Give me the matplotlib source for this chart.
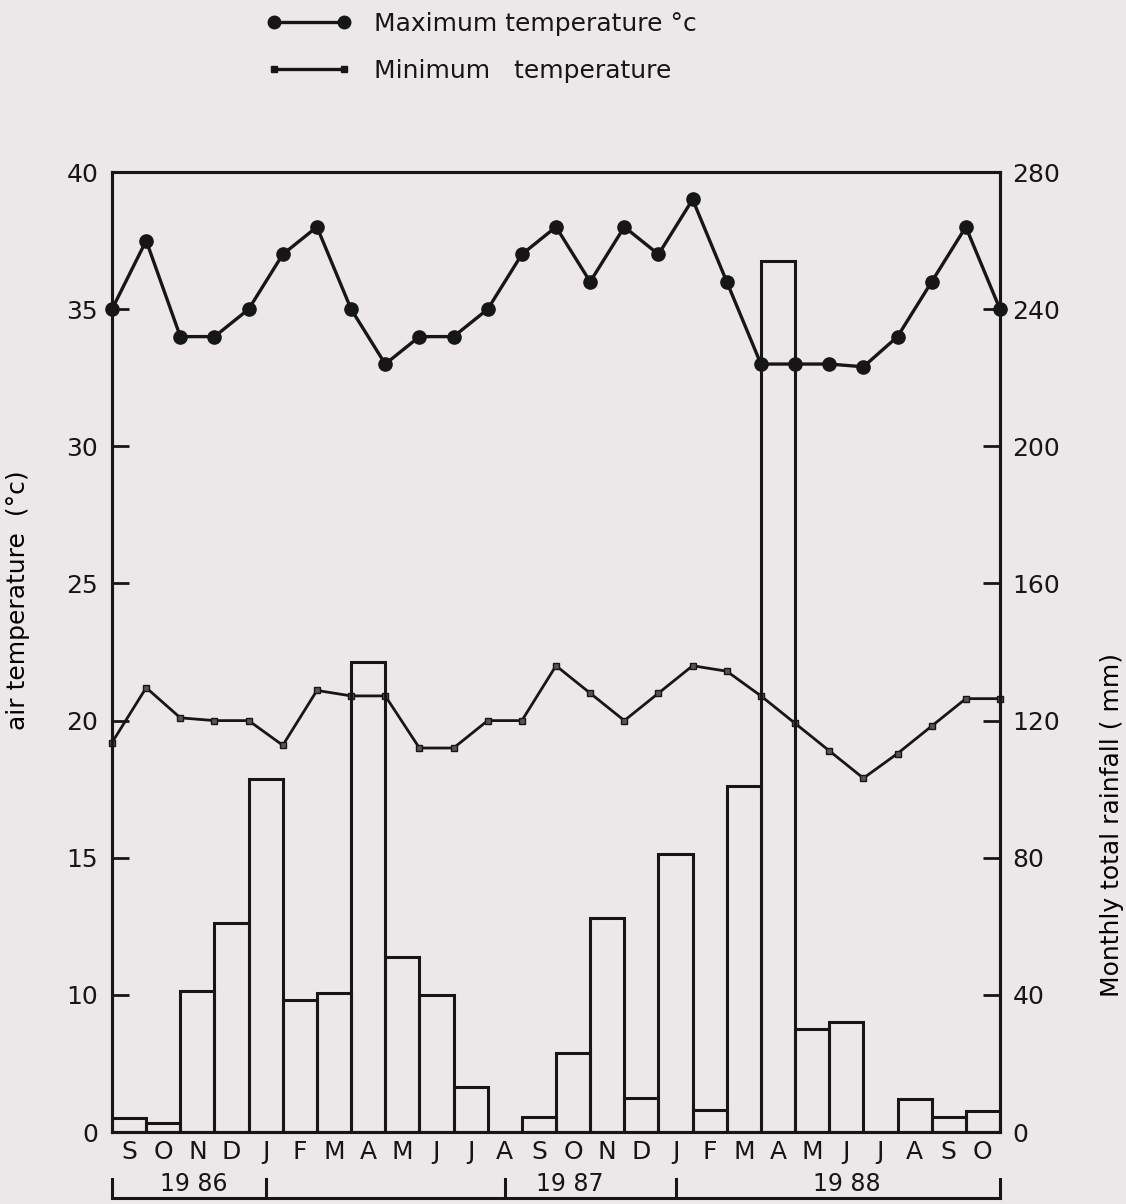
"""
Air temperature (max / min) and monthly rainfall, Sep 1986 - Oct 1988.
Output: out.png
"""

import matplotlib.pyplot as plt
from matplotlib.lines import Line2D
from matplotlib.transforms import blended_transform_factory

# ---------------------------------------------------------
# data
# ---------------------------------------------------------
MONTHS = ["S", "O", "N", "D", "J", "F", "M", "A", "M", "J", "J", "A",
          "S", "O", "N", "D", "J", "F", "M", "A", "M", "J", "J", "A",
          "S", "O"]

# monthly total rainfall (mm), one bar per month
RAINFALL = [4, 2.5, 41, 61, 103, 38.5, 40.5, 137, 51, 40, 13, 0,
            4.5, 23, 62.5, 10, 81, 6.5, 101, 254, 30, 32, 0, 9.5,
            4.3, 6.2]

# temperatures are plotted at the month boundaries (27 points)
T_MAX = [35, 37.5, 34, 34, 35, 37, 38, 35, 33, 34, 34, 35, 37, 38,
         36, 38, 37, 39, 36, 33, 33, 33, 32.9, 34, 36, 38, 35]
T_MIN = [19.2, 21.2, 20.1, 20, 20, 19.1, 21.1, 20.9, 20.9, 19, 19,
         20, 20, 22, 21, 20, 21, 22, 21.8, 20.9, 19.9, 18.9, 17.9,
         18.8, 19.8, 20.8, 20.8]

# year brackets under the month labels
YEARS = ["19 86", "19 87", "19 88"]
YEAR_POS = [2.4, 13.4, 21.5]
YEAR_TICKS = [0, 4.5, 11.5, 16.5, 26]

TEMP_TICKS = [5, 10, 15, 20, 25, 30, 35, 40]
TEMP_TICKLABELS = ["0", "10", "15", "20", "25", "30", "35", "40"]
RAIN_TICKS = [0, 40, 80, 120, 160, 200, 240, 280]

# ---------------------------------------------------------
# style
# ---------------------------------------------------------
BG = "#ECE8E9"
INK = "#161616"
FS = 18

plt.rcParams.update({
    "font.family": "DejaVu Sans",
    "font.size": FS,
    "text.color": INK,
    "axes.edgecolor": INK,
    "xtick.color": INK,
    "ytick.color": INK,
})

fig = plt.figure(figsize=(11.26, 12.04), dpi=100, facecolor=BG)
ax = fig.add_axes([0.0995, 0.0598, 0.7886, 0.7973])
ax.set_facecolor(BG)
ax2 = ax.twinx()

# rainfall bars (open boxes)
n = len(RAINFALL)
ax2.bar(range(n), RAINFALL, width=1.0, align="edge", fill=False,
        edgecolor=INK, linewidth=2.2)

# temperature lines
xs = range(len(T_MAX))
ax.plot(xs, T_MAX, "-o", color=INK, linewidth=2.4, markersize=9.5,
        clip_on=False, zorder=5)
ax.plot(xs, T_MIN, "-s", color=INK, linewidth=2.0, markersize=4.5,
        markerfacecolor="#555555", clip_on=False, zorder=5)

ax.set_xlim(0, n)
ax.set_ylim(5, 40)
ax2.set_ylim(0, 280)

ax.set_yticks(TEMP_TICKS)
ax.set_yticklabels(TEMP_TICKLABELS)
ax2.set_yticks(RAIN_TICKS)
ax.tick_params(axis="y", direction="in", length=12, width=2, pad=10,
               labelsize=FS)
ax2.tick_params(axis="y", direction="in", length=12, width=2, pad=9,
                labelsize=FS)

# months under each bar, no x ticks
ax.set_xticks([i + 0.5 for i in range(n)])
ax.set_xticklabels(MONTHS)
ax.tick_params(axis="x", length=0, pad=6, labelsize=FS)

for a in (ax, ax2):
    for sp in a.spines.values():
        sp.set_linewidth(2.2)

ax.set_ylabel("air temperature  (°c)", fontsize=FS)
ax.yaxis.set_label_coords(-0.092, 0.554)
ax2.set_ylabel("Monthly total rainfall ( mm)", fontsize=FS)
ax2.yaxis.set_label_coords(1.113, 0.32)

# year bracket
trans = blended_transform_factory(ax.transData, ax.transAxes)
ax.plot([YEAR_TICKS[0], YEAR_TICKS[-1]], [-0.069, -0.069], color=INK,
        linewidth=2.2, transform=trans, clip_on=False)
for xt in YEAR_TICKS:
    ax.plot([xt, xt], [-0.069, -0.049], color=INK, linewidth=2.2,
            transform=trans, clip_on=False)
for label, xp in zip(YEARS, YEAR_POS):
    ax.text(xp, -0.054, label, transform=trans, ha="center", va="center",
            fontsize=FS - 1)

# legend at the top
handles = [
    Line2D([], [], color=INK, linewidth=2.4, marker="o", markersize=9),
    Line2D([], [], color=INK, linewidth=2.4, marker="s", markersize=5),
]
fig.legend(handles, ["Maximum temperature °c", "Minimum   temperature"],
           loc="upper left", bbox_to_anchor=(0.237, 0.99), frameon=False,
           numpoints=2, handlelength=3.4, handletextpad=0.9,
           labelspacing=0.9, borderpad=0, borderaxespad=0, fontsize=FS)

fig.savefig("out.png", dpi=100, facecolor=BG)
